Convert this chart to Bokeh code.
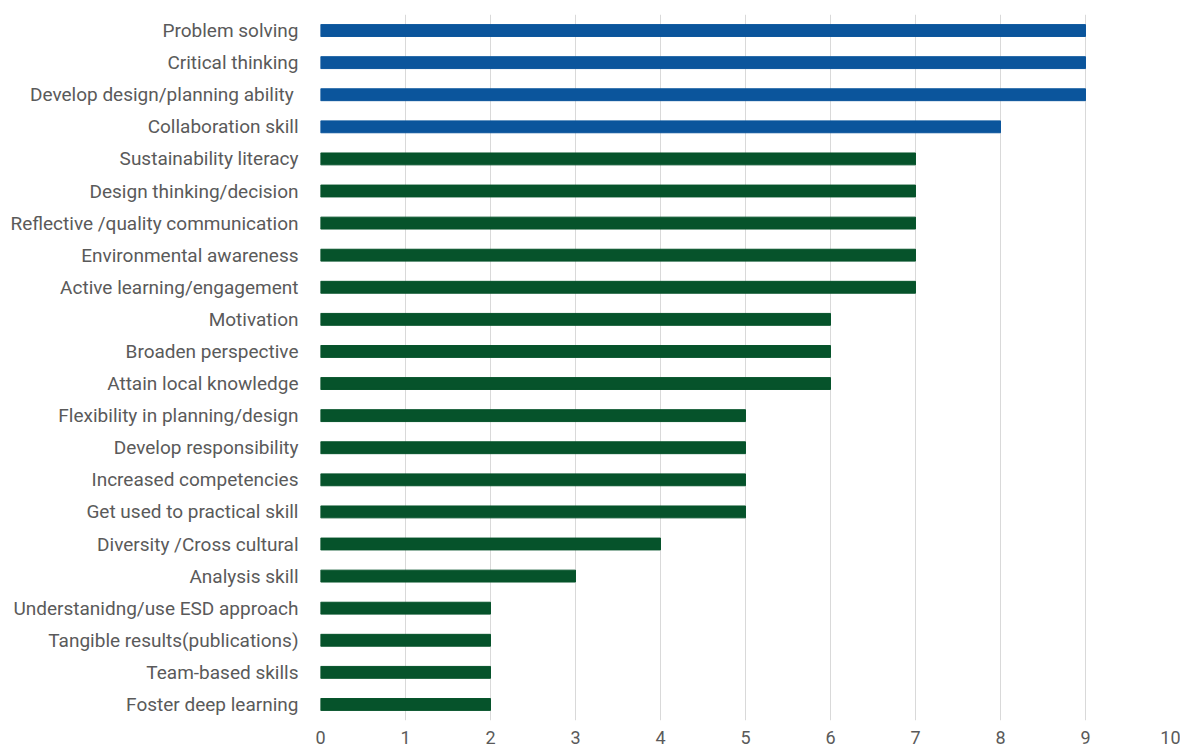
from bokeh.plotting import figure
from bokeh.models import ColumnDataSource, Range1d, FixedTicker
from bokeh.embed import file_html
from bokeh.resources import INLINE

categories = [
    "Problem solving", "Critical thinking", "Develop design/planning ability ",
    "Collaboration skill", "Sustainability literacy", "Design thinking/decision",
    "Reflective /quality communication", "Environmental awareness",
    "Active learning/engagement", "Motivation", "Broaden perspective",
    "Attain local knowledge", "Flexibility in planning/design",
    "Develop responsibility", "Increased competencies",
    "Get used to practical skill", "Diversity /Cross cultural", "Analysis skill",
    "Understanidng/use ESD approach", "Tangible results(publications)",
    "Team-based skills", "Foster deep learning",
]
values = [9, 9, 9, 8, 7, 7, 7, 7, 7, 6, 6, 6, 5, 5, 5, 5, 4, 3, 2, 2, 2, 2]
groups = ["top"] * 4 + ["rest"] * 18
tick_values = [0, 1, 2, 3, 4, 5, 6, 7, 8, 9, 10]

palette = {"top": "#0b559c", "rest": "#06532b"}
colors = [palette[g] for g in groups]

src = ColumnDataSource(dict(cat=categories, val=values, color=colors))

p = figure(
    y_range=list(reversed(categories)),
    x_range=Range1d(0, 10),
    frame_width=850, frame_height=706,
    output_backend="svg", toolbar_location=None,
    min_border_left=320, min_border_right=10,
    min_border_top=14, min_border_bottom=20,
)
p.hbar(y="cat", right="val", left=0, height=0.37, color="color", source=src)

p.outline_line_color = None
p.ygrid.grid_line_color = None
p.xgrid.grid_line_color = "#d9d9d9"
p.xgrid.grid_line_width = 1
p.xaxis.ticker = FixedTicker(ticks=tick_values)
p.y_range.range_padding = 0

for ax in (p.xaxis[0], p.yaxis[0]):
    ax.axis_line_color = None
    ax.major_tick_line_color = None
    ax.minor_tick_line_color = None
    ax.major_tick_out = 0
    ax.major_tick_in = 0
    ax.major_label_text_font = "Roboto"
    ax.major_label_text_color = "#5a5a5a"

p.yaxis.major_label_text_font_size = "19px"
p.xaxis.major_label_text_font_size = "18px"
p.yaxis.major_label_standoff = 22
p.xaxis.major_label_standoff = 10

open("out.html", "w").write(file_html(p, INLINE))
